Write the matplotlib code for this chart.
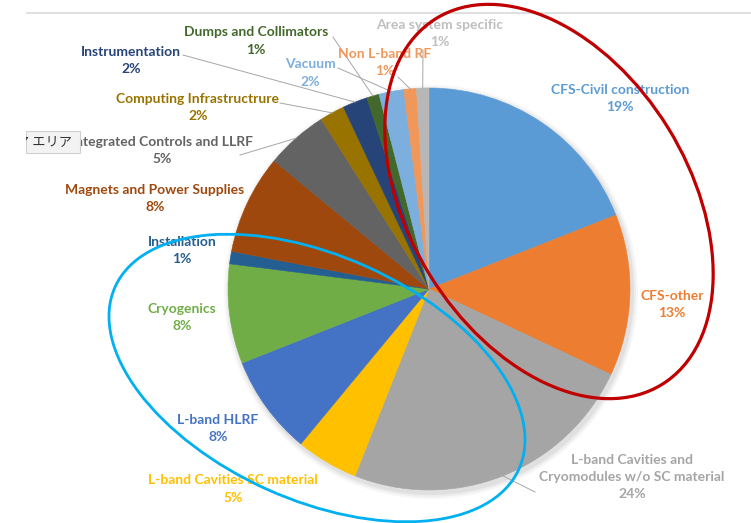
import matplotlib
matplotlib.use("Agg")
import matplotlib.pyplot as plt
from matplotlib.patches import Ellipse, Rectangle, Circle
import numpy as np

# data (percent of total cost)
categories = [
    "CFS-Civil construction", "CFS-other",
    "L-band Cavities and\nCryomodules w/o SC material",
    "L-band Cavities SC material", "L-band HLRF", "Cryogenics", "Installation",
    "Magnets and Power Supplies", "Integrated Controls and LLRF",
    "Computing Infrastructrure", "Instrumentation", "Dumps and Collimators",
    "Vacuum", "Non L-band RF", "Area system specific",
]
values = [19, 13, 24, 5, 8, 8, 1, 8, 5, 2, 2, 1, 2, 1, 1]
colors = ["#5B9BD5", "#ED7D31", "#A5A5A5", "#FFC000", "#4472C4", "#70AD47",
          "#255E91", "#9E480E", "#636363", "#997300", "#264478", "#43682B",
          "#7CAFDD", "#F1975A", "#B7B7B7"]
label_colors = list(colors)
label_colors[14] = "#BFBFBF"

W, H = 751, 523


def Y(y):
    # screen y (top down) -> axes y
    return H - y


# label centres (screen px) and where leader lines leave the label
label_pos = [(620, 98.5), (672, 304.5), (632, 477), (233, 489), (218, 428.5),
             (182, 317.5), (182, 250.5), (155, 198.5), (162, 150.5),
             (198, 107.5), (131, 60.5), (256, 41), (310, 73), (385, 62.5),
             (440, 33.5)]
leader_from = {2: (535, 492), 8: (240, 155), 9: (280, 103), 10: (183, 55),
               11: (333, 37), 12: (338, 68), 13: (398, 77), 14: (423, 50)}

fig = plt.figure(figsize=(7.51, 5.23), dpi=100)
ax = fig.add_axes([0, 0, 1, 1])

cx, cy, R = 429, Y(289), 201

# soft shadow under the pie
for k, a in [(6, 0.03), (4, 0.04), (2, 0.05)]:
    ax.add_patch(Circle((cx + 2, cy - 3), R + k, color="black", alpha=a, lw=0, zorder=0))

wedges, _ = ax.pie(values, colors=colors, startangle=90, counterclock=False,
                   center=(cx, cy), radius=R,
                   wedgeprops=dict(linewidth=0.4, edgecolor="none"))
for w, c in zip(wedges, colors):
    w.set_edgecolor(c)

ax.set_xlim(0, W)
ax.set_ylim(0, H)
ax.set_aspect("equal")
ax.axis("off")

for i, (name, v) in enumerate(zip(categories, values)):
    x, y = label_pos[i]
    ax.text(x, Y(y), f"{name}\n{v}%", ha="center", va="center",
            fontsize=10, family="Lato", weight="bold", color=label_colors[i],
            linespacing=1.5, zorder=3)
    if i in leader_from:
        w = wedges[i]
        mid = np.deg2rad((w.theta1 + w.theta2) / 2)
        px, py = cx + R * np.cos(mid), cy + R * np.sin(mid)
        lx, ly = leader_from[i]
        ax.plot([lx, px], [Y(ly), py], color="#A6A6A6", lw=0.7, zorder=2)

# hand-drawn highlight ellipses
ax.add_patch(Ellipse((549, Y(201.5)), 430, 280, angle=-58.3, fill=False,
                     edgecolor="#C00000", lw=2.3, zorder=5))
ax.add_patch(Ellipse((317, Y(378)), 443, 244, angle=-24.3, fill=False,
                     edgecolor="#00B0F0", lw=2.0, zorder=5))

# chart frame top line and tooltip remnant
ax.plot([27, W], [Y(13), Y(13)], color="#D9D9D9", lw=1.2, zorder=1)
ax.add_patch(Rectangle((26, Y(153)), 54, 22, facecolor="#F3F3F3",
                       edgecolor="#CFCFCF", lw=0.8, zorder=6))
ax.text(16, Y(142), "ア エリア", ha="left", va="center", fontsize=9.5,
        family=["Noto Sans CJK JP", "DejaVu Sans"], color="#333333", zorder=7)
ax.add_patch(Rectangle((0, 0), 26, H, facecolor="white", edgecolor="none", zorder=8))

fig.savefig("out.png", dpi=100)
